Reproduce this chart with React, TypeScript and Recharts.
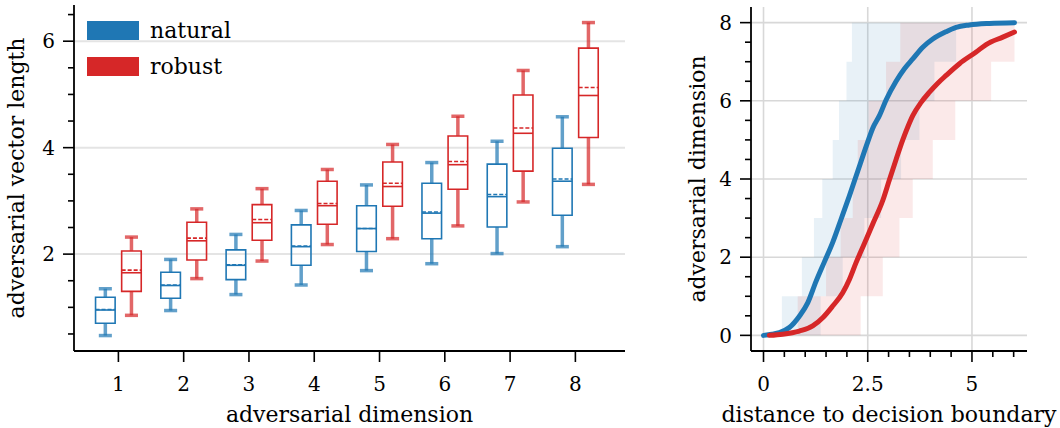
import React from "react";
import {
  ComposedChart,
  XAxis,
  YAxis,
  CartesianGrid,
  ReferenceArea,
  ReferenceLine,
  Line,
  Area,
  Legend,
} from "recharts";

const BLUE = "#1f77b4";
const RED = "#d62728";
const FONT = "DejaVu Serif";

// left panel: box statistics per adversarial dimension
const dimensions = [1, 2, 3, 4, 5, 6, 7, 8];

const naturalLow = [0.47, 0.94, 1.24, 1.42, 1.69, 1.82, 2.01, 2.14];
const naturalQ1 = [0.7, 1.17, 1.52, 1.79, 2.05, 2.29, 2.51, 2.73];
const naturalMedian = [0.95, 1.41, 1.79, 2.14, 2.48, 2.77, 3.08, 3.37];
const naturalMean = [0.96, 1.42, 1.8, 2.15, 2.48, 2.79, 3.12, 3.41];
const naturalQ3 = [1.19, 1.66, 2.08, 2.55, 2.91, 3.33, 3.69, 3.99];
const naturalHigh = [1.35, 1.9, 2.37, 2.82, 3.3, 3.72, 4.12, 4.58];

const robustLow = [0.85, 1.54, 1.87, 2.18, 2.29, 2.53, 2.98, 3.31];
const robustQ1 = [1.3, 1.89, 2.26, 2.56, 2.9, 3.22, 3.56, 4.19];
const robustMedian = [1.65, 2.25, 2.59, 2.91, 3.27, 3.68, 4.27, 4.98];
const robustMean = [1.7, 2.3, 2.65, 2.95, 3.33, 3.74, 4.37, 5.13];
const robustQ3 = [2.06, 2.6, 2.93, 3.37, 3.73, 4.22, 4.99, 5.87];
const robustHigh = [2.32, 2.85, 3.23, 3.59, 4.06, 4.59, 5.45, 6.35];

const leftYTicks = [0.5, 1, 1.5, 2, 2.5, 3, 3.5, 4, 4.5, 5, 5.5, 6, 6.5];
const leftYMajor = [2, 4, 6];

// right panel: dimension vs distance to decision boundary
const naturalDistance = [0, 0.2, 0.38, 0.62, 0.86, 1.06, 1.26, 1.46, 1.66, 1.86, 2.06, 2.26, 2.5, 2.62, 2.78, 2.94, 3.18, 3.38, 3.58, 3.82, 4.06, 4.38, 4.62, 4.94, 5.42, 6.02];
const naturalDim = [0, 0.03, 0.07, 0.2, 0.49, 0.83, 1.38, 1.88, 2.38, 2.97, 3.57, 4.2, 4.95, 5.3, 5.62, 6.02, 6.5, 6.82, 7.07, 7.37, 7.58, 7.77, 7.88, 7.94, 7.98, 8.0];

const robustDistance = [0.14, 0.46, 0.86, 1.18, 1.42, 1.66, 1.9, 2.06, 2.22, 2.42, 2.62, 2.86, 3.02, 3.18, 3.34, 3.46, 3.58, 3.78, 3.98, 4.18, 4.38, 4.7, 5.1, 5.34, 5.74, 6.02];
const robustDim = [0, 0.03, 0.11, 0.24, 0.45, 0.75, 1.09, 1.43, 1.86, 2.35, 2.85, 3.45, 3.98, 4.5, 5.0, 5.33, 5.62, 5.96, 6.22, 6.45, 6.65, 6.95, 7.25, 7.44, 7.63, 7.76];

// distances at which the shaded band's edge steps up by one dimension
const naturalUpperSteps = [0.44, 0.92, 1.21, 1.41, 1.66, 1.81, 1.99, 2.12];
const naturalLowerSteps = [1.37, 1.9, 2.42, 2.82, 3.3, 3.74, 4.1, 4.62];
const robustUpperSteps = [0.82, 1.5, 1.85, 2.14, 2.26, 2.52, 2.94, 3.28];
const robustLowerSteps = [2.33, 2.86, 3.26, 3.58, 4.06, 4.6, 5.46];
const bandEnd = 6.02;

const rightXTicks = [0, 0.5, 1, 1.5, 2, 2.5, 3, 3.5, 4, 4.5, 5, 5.5, 6];
const rightXMajor = [0, 2.5, 5];
const rightYTicks = [0, 0.5, 1, 1.5, 2, 2.5, 3, 3.5, 4, 4.5, 5, 5.5, 6, 6.5, 7, 7.5, 8];
const rightYMajor = [0, 2, 4, 6, 8];

const legendItems = [
  { label: "natural", color: BLUE },
  { label: "robust", color: RED },
];

const boxes = dimensions.flatMap((d, i) => [
  { key: `n${d}`, color: BLUE, x: d - 0.2, low: naturalLow[i], q1: naturalQ1[i], med: naturalMedian[i], mean: naturalMean[i], q3: naturalQ3[i], high: naturalHigh[i] },
  { key: `r${d}`, color: RED, x: d + 0.2, low: robustLow[i], q1: robustQ1[i], med: robustMedian[i], mean: robustMean[i], q3: robustQ3[i], high: robustHigh[i] },
]);

const toPoints = (xs: number[], ys: number[]) => xs.map((x, i) => ({ x, y: ys[i] }));

function stepBand(lower: number[], upper: number[]) {
  const xs = [0, ...lower, ...upper, bandEnd].sort((a, b) => a - b);
  return xs.map((x) => ({
    x,
    range: [lower.filter((s) => s <= x).length, upper.filter((s) => s <= x).length],
  }));
}

const naturalLine = toPoints(naturalDistance, naturalDim);
const robustLine = toPoints(robustDistance, robustDim);
const naturalBand = stepBand(naturalLowerSteps, naturalUpperSteps);
const robustBand = stepBand(robustLowerSteps, robustUpperSteps);

const textStyle = { fontFamily: FONT, fill: "#000" };

function LeftTick(props: any) {
  const { x, y, payload, majors } = props;
  const major = majors.includes(payload.value);
  const len = major ? 11 : 6;
  return (
    <g>
      <line x1={x - len} x2={x} y1={y} y2={y} stroke="#000" strokeWidth={1.6} />
      {major && (
        <text x={x - len - 8} y={y} dy="0.36em" textAnchor="end" fontSize={20} style={textStyle}>
          {payload.value}
        </text>
      )}
    </g>
  );
}

function BottomTick(props: any) {
  const { x, y, payload, majors } = props;
  const major = majors.includes(payload.value);
  const len = major ? 11 : 6;
  return (
    <g>
      <line x1={x} x2={x} y1={y} y2={y + len} stroke="#000" strokeWidth={1.6} />
      {major && (
        <text x={x} y={y + 33} dy="0.36em" textAnchor="middle" fontSize={20} style={textStyle}>
          {payload.value}
        </text>
      )}
    </g>
  );
}

function SideTitle({ viewBox, caption, dx }: any) {
  const cx = viewBox.x + dx;
  const cy = viewBox.y + viewBox.height / 2;
  return (
    <text x={cx} y={cy} dy="0.36em" transform={`rotate(-90 ${cx} ${cy})`} textAnchor="middle" fontSize={22} style={textStyle}>
      {caption}
    </text>
  );
}

function BottomTitle({ viewBox, caption, dy }: any) {
  const cx = viewBox.x + viewBox.width / 2;
  const cy = viewBox.y + dy;
  return (
    <text x={cx} y={cy} dy="0.36em" textAnchor="middle" fontSize={22} style={textStyle}>
      {caption}
    </text>
  );
}

const renderLegend = () => (
  <div style={{ fontFamily: FONT, fontSize: 22 }}>
    {legendItems.map((item) => (
      <div key={item.label} style={{ display: "flex", alignItems: "center", height: 36 }}>
        <span style={{ display: "inline-block", width: 52, height: 19, background: item.color, marginRight: 11 }} />
        <span>{item.label}</span>
      </div>
    ))}
  </div>
);

function BoxChart() {
  return (
    <ComposedChart width={640} height={428} data={boxes} margin={{ top: 5, right: 15, left: 0, bottom: 0 }}>
      <CartesianGrid horizontal vertical={false} horizontalValues={leftYMajor} stroke="#e4e4e4" strokeWidth={2} />
      <XAxis
        dataKey="x"
        type="number"
        domain={[0.32, 8.76]}
        ticks={dimensions}
        interval={0}
        height={77}
        tickSize={0}
        tickMargin={0}
        tickLine={false}
        axisLine={{ stroke: "#000", strokeWidth: 1.8 }}
        tick={(p: any) => <BottomTick {...p} majors={dimensions} />}
        label={<BottomTitle caption="adversarial dimension" dy={63} />}
        allowDataOverflow
      />
      <YAxis
        type="number"
        domain={[0.18, 6.68]}
        ticks={leftYTicks}
        interval={0}
        width={74}
        tickSize={0}
        tickMargin={0}
        tickLine={false}
        axisLine={{ stroke: "#000", strokeWidth: 1.8 }}
        tick={(p: any) => <LeftTick {...p} majors={leftYMajor} />}
        label={<SideTitle caption="adversarial vector length" dx={16} />}
        allowDataOverflow
      />
      {boxes.map((b) => (
        <React.Fragment key={b.key}>
          <ReferenceLine segment={[{ x: b.x, y: b.low }, { x: b.x, y: b.q1 }]} stroke={b.color} strokeOpacity={0.7} strokeWidth={3.5} />
          <ReferenceLine segment={[{ x: b.x, y: b.q3 }, { x: b.x, y: b.high }]} stroke={b.color} strokeOpacity={0.7} strokeWidth={3.5} />
          <ReferenceLine segment={[{ x: b.x - 0.1, y: b.low }, { x: b.x + 0.1, y: b.low }]} stroke={b.color} strokeOpacity={0.7} strokeWidth={3.5} />
          <ReferenceLine segment={[{ x: b.x - 0.1, y: b.high }, { x: b.x + 0.1, y: b.high }]} stroke={b.color} strokeOpacity={0.7} strokeWidth={3.5} />
          <ReferenceArea x1={b.x - 0.15} x2={b.x + 0.15} y1={b.q1} y2={b.q3} fill="none" stroke={b.color} strokeWidth={1.6} />
          <ReferenceLine segment={[{ x: b.x - 0.15, y: b.med }, { x: b.x + 0.15, y: b.med }]} stroke={b.color} strokeWidth={1.6} />
          <ReferenceLine segment={[{ x: b.x - 0.15, y: b.mean }, { x: b.x + 0.15, y: b.mean }]} stroke={b.color} strokeWidth={1.6} strokeDasharray="4 2" />
        </React.Fragment>
      ))}
      <Legend
        layout="vertical"
        align="center"
        verticalAlign="middle"
        content={renderLegend}
        wrapperStyle={{ left: 87, top: 12, width: "auto", height: "auto" }}
      />
    </ComposedChart>
  );
}

function DistanceChart() {
  return (
    <ComposedChart width={420} height={428} margin={{ top: 7, right: 33, left: 0, bottom: 0 }}>
      <CartesianGrid horizontalValues={rightYMajor} verticalValues={rightXMajor} stroke="#d8d8d8" strokeWidth={1.6} />
      <XAxis
        dataKey="x"
        type="number"
        domain={[-0.3, 6.32]}
        ticks={rightXTicks}
        interval={0}
        height={77}
        tickSize={0}
        tickMargin={0}
        tickLine={false}
        axisLine={{ stroke: "#000", strokeWidth: 1.8 }}
        tick={(p: any) => <BottomTick {...p} majors={rightXMajor} />}
        label={<BottomTitle caption="distance to decision boundary" dy={63} />}
        allowDataOverflow
      />
      <YAxis
        type="number"
        domain={[-0.4, 8.4]}
        ticks={rightYTicks}
        interval={0}
        width={111}
        tickSize={0}
        tickMargin={0}
        tickLine={false}
        axisLine={{ stroke: "#000", strokeWidth: 1.8 }}
        tick={(p: any) => <LeftTick {...p} majors={rightYMajor} />}
        label={<SideTitle caption="adversarial dimension" dx={57} />}
        allowDataOverflow
      />
      <Area data={naturalBand} dataKey="range" type="stepAfter" stroke="none" fill={BLUE} fillOpacity={0.1} isAnimationActive={false} />
      <Area data={robustBand} dataKey="range" type="stepAfter" stroke="none" fill={RED} fillOpacity={0.1} isAnimationActive={false} />
      <Line data={naturalLine} dataKey="y" type="monotone" stroke={BLUE} strokeWidth={5} strokeLinecap="round" dot={false} activeDot={false} isAnimationActive={false} />
      <Line data={robustLine} dataKey="y" type="monotone" stroke={RED} strokeWidth={5} strokeLinecap="round" dot={false} activeDot={false} isAnimationActive={false} />
    </ComposedChart>
  );
}

export default function App() {
  return (
    <div style={{ position: "absolute", left: 0, top: 0, width: 1060, height: 428, background: "#fff" }}>
      <div style={{ position: "absolute", left: 0, top: 0 }}>
        <BoxChart />
      </div>
      <div style={{ position: "absolute", left: 640, top: 0 }}>
        <DistanceChart />
      </div>
    </div>
  );
}
